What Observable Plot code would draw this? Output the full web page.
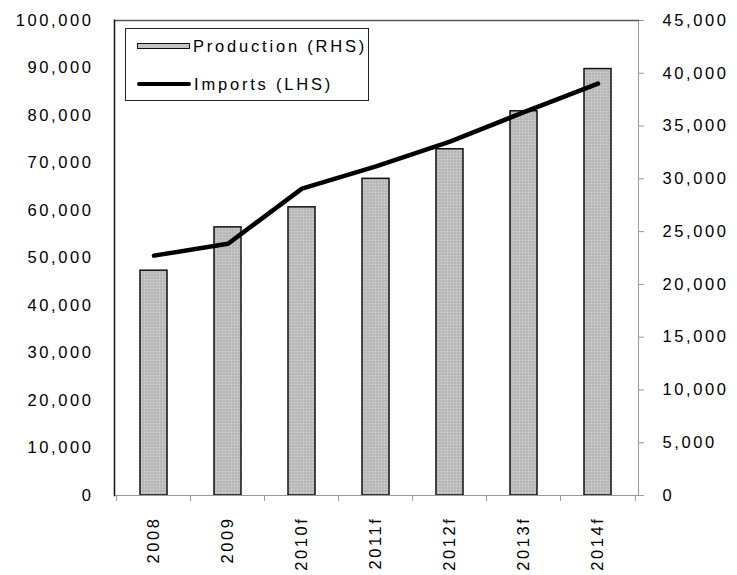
<!DOCTYPE html>
<html>
<head>
<meta charset="utf-8">
<script src="https://cdn.jsdelivr.net/npm/d3@7"></script>
<script src="https://cdn.jsdelivr.net/npm/@observablehq/plot@0.6"></script>
<style>
  body { margin: 0; background: #fff; }
  #wrap { position: relative; width: 737px; height: 575px; font-family: "Liberation Sans", Arial, sans-serif; color: #000; }
  #wrap svg text { letter-spacing: 2.6px; }
  .legend { position: absolute; left: 125px; top: 28px; width: 244px; height: 73px; border: 1px solid #222; background: #fff; box-sizing: border-box; font-size: 16.5px; letter-spacing: 2.8px; }
  .legend .row { position: absolute; left: 11px; height: 20px; display: flex; align-items: center; white-space: nowrap; }
  .legend .sw-bar { width: 51px; height: 4px; background: #c4c4c4; border: 1.5px solid #111; margin-right: 3px; }
  .legend .sw-line { width: 54px; height: 4px; background: #000; border-radius: 2px; margin-right: 3px; }
</style>
</head>
<body>
<div id="wrap"></div>
<script>
// Categories and series
const categories = ["2008", "2009", "2010f", "2011f", "2012f", "2013f", "2014f"];
const production = [21300, 25400, 27300, 30000, 32800, 36400, 40400]; // right-hand scale
const imports = [50500, 53000, 64600, 69300, 74500, 80700, 86700];     // left-hand scale
const leftTicks = [0, 10000, 20000, 30000, 40000, 50000, 60000, 70000, 80000, 90000, 100000];
const rightTicks = [0, 5000, 10000, 15000, 20000, 25000, 30000, 35000, 40000, 45000];

const leftMax = 100000;
const rightMax = 45000;
const k = leftMax / rightMax; // right-hand values mapped onto the shared y scale

const rows = categories.map((c, i) => ({cat: c, prod: production[i] * k, imports: imports[i]}));

const W = 737, H = 575;
const mL = 114, mR = 99, mT = 20, mB = 80;
const step = (W - mL - mR) / categories.length;
const fmt = d3.format(",");

const chart = Plot.plot({
  width: W,
  height: H,
  marginLeft: mL,
  marginRight: mR,
  marginTop: mT,
  marginBottom: mB,
  style: {fontFamily: "Liberation Sans, Arial, sans-serif", fontSize: "16.5px", color: "#000", background: "#fff", overflow: "visible"},
  x: {domain: categories, paddingInner: 0.63, paddingOuter: 0.315, label: null},
  y: {domain: [0, leftMax], label: null},
  marks: [
    Plot.barY(rows, {x: "cat", y: "prod", fill: "url(#stipple)", stroke: "#111", strokeWidth: 1.5}),
    Plot.frame({anchor: "bottom", stroke: "#999"}),
    Plot.frame({anchor: "right", stroke: "#999"}),
    Plot.frame({anchor: "top", stroke: "#555", strokeWidth: 1.5}),
    Plot.frame({anchor: "left", stroke: "#111", strokeWidth: 1.5}),
    // category separators below the baseline
    Plot.ruleX(rows, {x: "cat", y1: 0, y2: 0, dx: -step / 2, insetBottom: -6, stroke: "#999"}),
    Plot.ruleX(rows.slice(-1), {x: "cat", y1: 0, y2: 0, dx: step / 2, insetBottom: -6, stroke: "#999"}),
    Plot.line(rows, {x: "cat", y: "imports", stroke: "#000", strokeWidth: 4.5, strokeLinejoin: "round", strokeLinecap: "round"}),
    Plot.axisY({anchor: "left", ticks: leftTicks, tickSize: 0, tickPadding: 21, tickFormat: fmt, fill: "#000", label: null}),
    Plot.axisY({anchor: "right", ticks: rightTicks.map((v) => v * k), tickSize: 5, tickPadding: 19, stroke: "#999", fill: "#000",
      tickFormat: (d) => fmt(Math.round(d / k)), label: null}),
    Plot.axisX({anchor: "bottom", tickSize: 0, tickPadding: 21, tickRotate: -90, fill: "#000", label: null})
  ]
});

// dotted grey fill used by the production bars
const svgNS = "http://www.w3.org/2000/svg";
const defs = document.createElementNS(svgNS, "defs");
defs.innerHTML = `<pattern id="stipple" width="3" height="3" patternUnits="userSpaceOnUse">
  <rect width="3" height="3" fill="#bdbdbd"/>
  <rect x="0" y="0" width="1" height="1" fill="#d6d6d6"/>
  <rect x="1.5" y="1.5" width="1" height="1" fill="#a9a9a9"/>
</pattern>`;
chart.insertBefore(defs, chart.firstChild);

const wrap = document.getElementById("wrap");
wrap.appendChild(chart);

const legend = document.createElement("div");
legend.className = "legend";
legend.innerHTML = `
  <div class="row" style="top:7px"><span class="sw-bar"></span><span>Production (RHS)</span></div>
  <div class="row" style="top:45px"><span class="sw-line"></span><span>Imports (LHS)</span></div>`;
wrap.appendChild(legend);
</script>
</body>
</html>
